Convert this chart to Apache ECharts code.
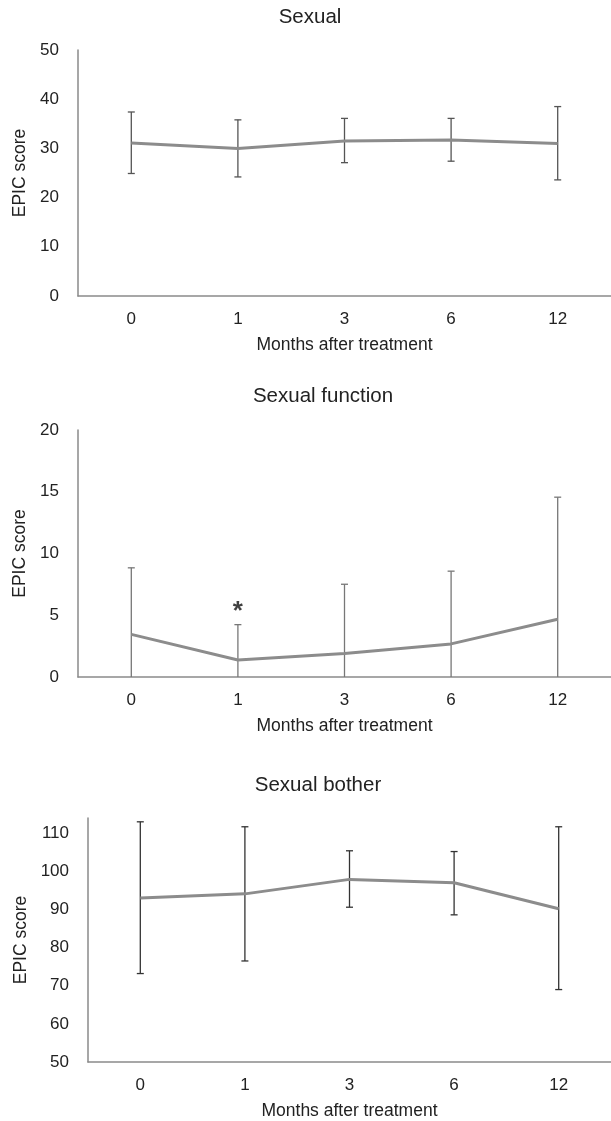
<!DOCTYPE html>
<html>
<head>
<meta charset="utf-8">
<script src="https://cdn.jsdelivr.net/npm/echarts@6/dist/echarts.min.js"></script>
<style>
html,body{margin:0;padding:0;background:#fff;}
#c{width:611px;height:1121px;}
</style>
</head>
<body>
<div id="c"></div>
<script>
var months = ['0', '1', '3', '6', '12'];

// Sexual
var sexMean = [31.1, 30.0, 31.5, 31.7, 31.0];
var sexLow  = [24.9, 24.2, 27.1, 27.4, 23.6];
var sexHigh = [37.4, 35.8, 36.1, 36.1, 38.5];

// Sexual function
var fnMean = [3.45, 1.38, 1.9, 2.68, 4.68];
var fnLow  = [0, 0, 0, 0, 0];
var fnHigh = [8.84, 4.24, 7.51, 8.57, 14.56];

// Sexual bother
var boMean = [93.0, 94.1, 97.9, 97.0, 90.2];
var boLow  = [73.2, 76.5, 90.6, 88.6, 69.0];
var boHigh = [113.0, 111.7, 105.4, 105.2, 111.7];

var titles = ['Sexual', 'Sexual function', 'Sexual bother'];
var FONT = '"Liberation Sans", Arial, sans-serif';

function errData(low, high) {
  return months.map(function (m, i) { return [i, low[i], high[i]]; });
}

function errSeries(idx, low, high, color, lowCap) {
  return {
    type: 'custom',
    xAxisIndex: idx, yAxisIndex: idx,
    z: 3,
    data: errData(low, high),
    renderItem: function (params, api) {
      var x = api.value(0);
      var lo = api.coord([x, api.value(1)]);
      var hi = api.coord([x, api.value(2)]);
      var w = 3.5;
      var style = { stroke: color, lineWidth: 1.3 };
      var ch = [
        { type: 'line', shape: { x1: lo[0], y1: lo[1], x2: hi[0], y2: hi[1] }, style: style },
        { type: 'line', shape: { x1: hi[0] - w, y1: hi[1], x2: hi[0] + w, y2: hi[1] }, style: style }
      ];
      if (lowCap) ch.push({ type: 'line', shape: { x1: lo[0] - w, y1: lo[1], x2: lo[0] + w, y2: lo[1] }, style: style });
      return { type: 'group', children: ch };
    }
  };
}

function lineSeries(idx, data) {
  return {
    type: 'line', xAxisIndex: idx, yAxisIndex: idx,
    data: data, symbol: 'none', z: 4,
    lineStyle: { color: '#8c8c8c', width: 3 }
  };
}

var axisLineStyle = { color: '#8a8a8a', width: 1.5 };

var grids = [
  { left: 78, right: 0, top: 50, height: 246 },
  { left: 78, right: 0, top: 430, height: 247 },
  { left: 88, right: 0, top: 818, height: 245 }
];
var yDefs = [
  { min: 0, max: 50, interval: 10, gap: 46 },
  { min: 0, max: 20, interval: 5, gap: 46 },
  { min: 50, max: 114, interval: 10, gap: 55 }
];
var titleDefs = [
  { left: 305, top: 2 },
  { left: 318, top: 381 },
  { left: 313, top: 770 }
];

var option = {
  backgroundColor: '#fff',
  animation: false,
  textStyle: { fontFamily: FONT },
  title: titles.map(function (t, i) {
    return {
      text: t, left: titleDefs[i].left, top: titleDefs[i].top, textAlign: 'center',
      textStyle: { fontFamily: FONT, fontSize: 20.5, fontWeight: 'normal', color: '#222' }
    };
  }),
  grid: grids,
  xAxis: grids.map(function (g, i) {
    return {
      type: 'category', gridIndex: i, data: months, boundaryGap: true,
      axisLine: { lineStyle: axisLineStyle },
      axisTick: { show: false },
      axisLabel: { fontFamily: FONT, fontSize: 17, color: '#222', margin: 15 },
      name: 'Months after treatment', nameLocation: 'middle', nameGap: 40,
      nameTextStyle: { fontFamily: FONT, fontSize: 17.5, color: '#222' }
    };
  }),
  yAxis: yDefs.map(function (d, i) {
    return {
      type: 'value', gridIndex: i, min: d.min, max: d.max, interval: d.interval,
      axisLine: { show: true, lineStyle: axisLineStyle },
      axisTick: { show: false },
      splitLine: { show: false },
      axisLabel: {
        fontFamily: FONT, fontSize: 17, color: '#222', margin: 19,
        formatter: function (v) { return (v - d.min) % d.interval === 0 ? String(v) : ''; }
      },
      name: 'EPIC score', nameLocation: 'middle', nameGap: d.gap, nameRotate: 90,
      nameTextStyle: { fontFamily: FONT, fontSize: 17.5, color: '#222' }
    };
  }),
  series: [
    errSeries(0, sexLow, sexHigh, '#555', true),
    lineSeries(0, sexMean),
    errSeries(1, fnLow, fnHigh, '#777', false),
    lineSeries(1, fnMean),
    {
      type: 'scatter', xAxisIndex: 1, yAxisIndex: 1, z: 5,
      data: [[1, fnHigh[1]]], symbolSize: 0, silent: true,
      label: { show: true, formatter: '*', position: 'top', distance: 0,
               fontFamily: FONT, fontSize: 26, fontWeight: 'bold', color: '#111' }
    },
    errSeries(2, boLow, boHigh, '#333', true),
    lineSeries(2, boMean)
  ]
};

var chart = echarts.init(document.getElementById('c'), null, { renderer: 'canvas' });
chart.setOption(option);
</script>
</body>
</html>
